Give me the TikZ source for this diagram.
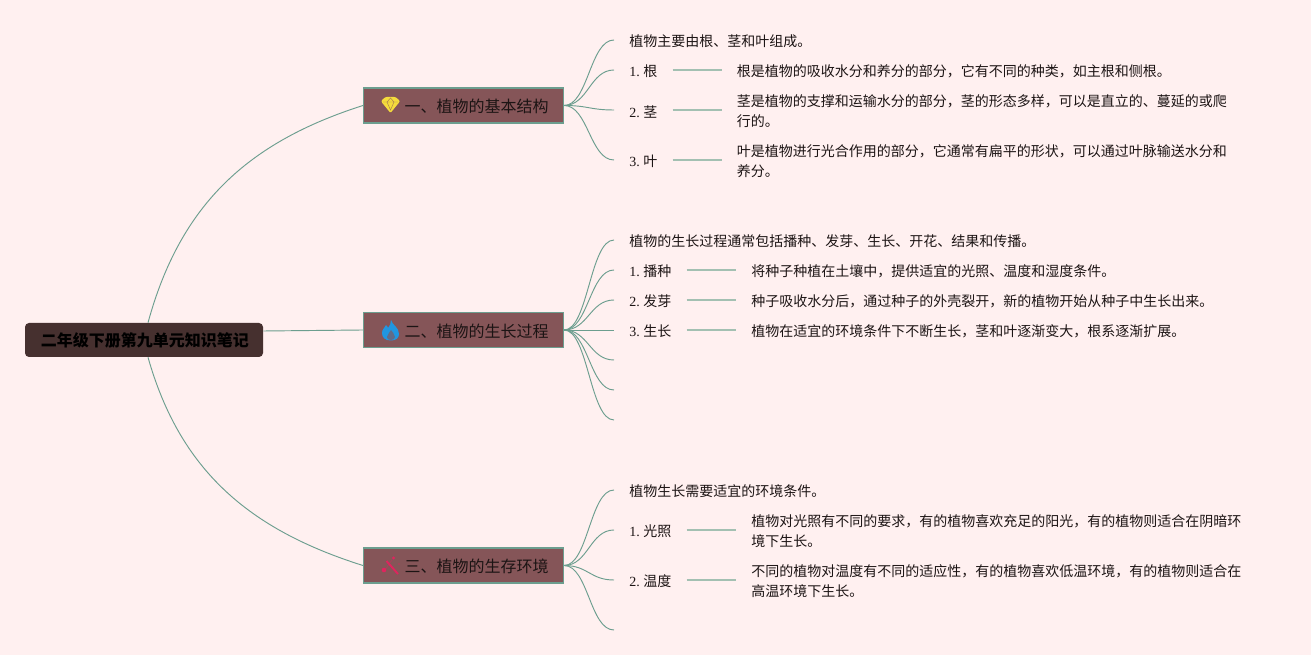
\documentclass[tikz,border=0pt]{standalone}
\usepackage{fontspec}
\setmainfont{Noto Sans CJK SC}
\newfontfamily\latn{Liberation Serif}
\definecolor{bgc}{HTML}{FFF0F0}
\definecolor{linkc}{HTML}{6C9E8F}
\definecolor{stemc}{HTML}{A3C0B2}
\definecolor{boxc}{HTML}{855558}
\definecolor{rootc}{HTML}{46302F}
\definecolor{inkc}{HTML}{1C1414}
\definecolor{gemc}{HTML}{F5DC3C}
\definecolor{flamec}{HTML}{2196E0}
\definecolor{wandc}{HTML}{E0245E}
\tikzset{
  link/.style={draw=linkc,line width=0.7pt},
  stem/.style={draw=stemc,line width=0.9pt},
  rootbox/.style={fill=rootc,rounded corners=3pt,minimum width=178.5pt,minimum height=25.5pt,inner sep=0pt,text=black,font=\fontsize{12}{14}\selectfont\bfseries},
  branchbox/.style={fill=boxc,draw=linkc,line width=0.8pt,minimum height=26.25pt,inner xsep=11.25pt,inner ysep=0pt,text width=127.6pt,align=right,text=inkc,font=\fontsize{12}{14}\selectfont},
  leaf/.style={anchor=west,yshift=-1.2pt,inner xsep=11.25pt,inner ysep=0pt,text=inkc,font=\fontsize{10.5}{15}\selectfont},
  detail/.style={anchor=west,yshift=-1.2pt,inner xsep=11.25pt,inner ysep=0pt,align=left,text=inkc,font=\fontsize{10.5}{15}\selectfont},
}
\newcommand{\nm}[1]{{\latn #1\ }}
\newcommand{\btext}[1]{\raisebox{-0.75pt}[\height][\depth]{#1}\kern-0.1pt}
\begin{document}
\begin{tikzpicture}[x=0.75pt,y=-0.75pt]
\path[use as bounding box,fill=bgc] (0,0) rectangle (1311,655);

\node[rootbox] (root) at (144,340) {\kern1.5pt 二年级下册第九单元知识笔记};
\node[branchbox] (b1) at (463.5,105.5) {\btext{一、植物的基本结构}};
\node[branchbox] (b2) at (463.5,330) {\btext{二、植物的生长过程}};
\node[branchbox] (b3) at (463.5,565.5) {\btext{三、植物的生存环境}};

% Section 1
\node[leaf] (a0) at (614,40) {植物主要由根、茎和叶组成。};
\node[leaf] (a1) at (614,70) {\nm{1.}根};
\node[leaf] (a2) at (614,110) {\nm{2.}茎};
\node[leaf] (a3) at (614,160) {\nm{3.}叶};
\node[detail] (d1) at (721.5,70) {根是植物的吸收水分和养分的部分，它有不同的种类，如主根和侧根。};
\node[detail] (d2) at (721.5,110) {茎是植物的支撑和运输水分的部分，茎的形态多样，可以是直立的、蔓延的或爬\\行的。};
\node[detail] (d3) at (721.5,160) {叶是植物进行光合作用的部分，它通常有扁平的形状，可以通过叶脉输送水分和\\养分。};

% Section 2
\node[leaf] (c0) at (614,240) {植物的生长过程通常包括播种、发芽、生长、开花、结果和传播。};
\node[leaf] (c1) at (614,270) {\nm{1.}播种};
\node[leaf] (c2) at (614,300) {\nm{2.}发芽};
\node[leaf] (c3) at (614,330) {\nm{3.}生长};
\coordinate[yshift=-1.2pt] (c4) at (614,360);
\coordinate[yshift=-1.2pt] (c5) at (614,390);
\coordinate[yshift=-1.2pt] (c6) at (614,420);
\node[detail] (e1) at (736,270) {将种子种植在土壤中，提供适宜的光照、温度和湿度条件。};
\node[detail] (e2) at (736,300) {种子吸收水分后，通过种子的外壳裂开，新的植物开始从种子中生长出来。};
\node[detail] (e3) at (736,330) {植物在适宜的环境条件下不断生长，茎和叶逐渐变大，根系逐渐扩展。};

% Section 3
\node[leaf] (f0) at (614,490) {植物生长需要适宜的环境条件。};
\node[leaf] (f1) at (614,530) {\nm{1.}光照};
\node[leaf] (f2) at (614,580) {\nm{2.}温度};
\coordinate[yshift=-1.2pt] (f3) at (614,630);
\node[detail] (g1) at (736,530) {植物对光照有不同的要求，有的植物喜欢充足的阳光，有的植物则适合在阴暗环\\境下生长。};
\node[detail] (g2) at (736,580) {不同的植物对温度有不同的适应性，有的植物喜欢低温环境，有的植物则适合在\\高温环境下生长。};

% Root links
\draw[link] ([xshift=3pt]root.north) .. controls +(32.6,-119.4) and +(-114,36.5) .. (b1.west);
\draw[link] ([yshift=6.75pt]root.east) -- (b2.west);
\draw[link] ([xshift=3pt]root.south) .. controls +(32,113) and +(-114,-36) .. (b3.west);

% Branch links
\foreach \s/\t in {b1/a0.west,b1/a1.west,b1/a2.west,b1/a3.west,b2/c0.west,b2/c1.west,b2/c2.west,b2/c3.west,b2/c4,b2/c5,b2/c6,b3/f0.west,b3/f1.west,b3/f2.west,b3/f3}{
  \draw[link] (\s.east) .. controls +(24,0) and +(-24,0) .. ([yshift=1.2pt]\t);
}

% Stems
\foreach \s/\t in {a1/d1,a2/d2,a3/d3,c1/e1,c2/e2,c3/e3,f1/g1,f2/g2}{
  \draw[stem] ([yshift=1.2pt]\s.east) -- ([yshift=1.2pt]\t.west);
}

% Gem icon
\fill[gemc,rounded corners=0.8pt] (381.5,100.5) -- (385.5,97) -- (395.5,97) -- (399.5,100.5) -- (399.5,102) -- (390.5,113) -- (381.5,102) -- cycle;
\draw[boxc!70!gemc,line width=0.35pt] (383,102) -- (398,102) (387,102) -- (390.5,110) -- (394,102) (387,102) -- (390.5,98) -- (394,102);

% Flame icon
\fill[flamec] (391,320) .. controls (392,325) and (399,327) .. (399,334) .. controls (399,338) and (396,340.5) .. (391,340.5) .. controls (385,340.5) and (382,337.5) .. (382,333) .. controls (382,329) and (385,328) .. (386,325) .. controls (387,326) and (388,327) .. (388,328) .. controls (390,326) and (391,323) .. (391,320) -- cycle;
\fill[boxc!65!flamec] (391,330) .. controls (392,332) and (395,334) .. (395,337) .. controls (395,339) and (393,340) .. (391,340) .. controls (388.5,340) and (387,339) .. (387,337) .. controls (387,334) and (390,333) .. (391,330) -- cycle;

% Wand icon
\draw[wandc,line width=1.4pt] (386.5,561) -- (398,574);
\draw[wandc,opacity=0.35,line width=0.7pt] (385,570) -- (392,560);
\fill[wandc] (384,570) circle[radius=2.3] (393.5,558) circle[radius=1.7];
\fill[wandc,opacity=0.5] (399,564) circle[radius=0.9];
\end{tikzpicture}
\end{document}
